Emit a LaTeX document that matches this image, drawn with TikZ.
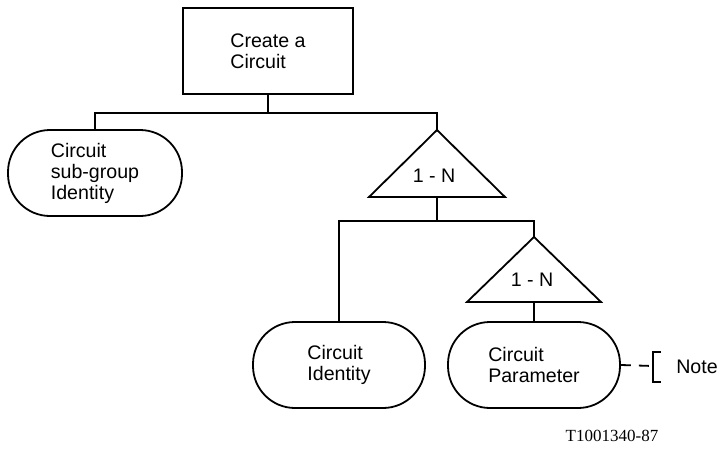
\documentclass[tikz,border=0pt]{standalone}
\usepackage{fontspec}
\setmainfont{Liberation Sans}
\newfontfamily\codefont{Liberation Serif}
\begin{document}
\begin{tikzpicture}[x=0.5pt,y=-0.5pt,line width=0.9pt,
    every node/.style={font=\fontsize{9.8}{10.5}\selectfont,align=left},
    action/.style={draw,minimum width=85pt,minimum height=43pt},
    entity/.style={draw,rounded corners=21pt,minimum width=86pt,minimum height=43pt}]
      \useasboundingbox (0,0) rectangle (723,450);
      \draw
        (268,51) node[action] (create){Create a\\Circuit}
        (95,173) node[entity,minimum width=87pt] (subgroup){Circuit\\sub-group\\Identity}
        (339,365) node[entity] (identity){Circuit\\Identity}
        (534,365) node[entity] (parameter){Circuit\\Parameter}
        (434,176) node (cardA){1 - N}
        (532,280) node (cardB){1 - N}
        (697,367) node (note){Note}
        (612,436) node[font=\codefont\fontsize{8.5}{10}\selectfont] (code){T1001340-87};
      \coordinate (apexA) at (437,130);
      \coordinate (baseA) at (437,197);
      \coordinate (apexB) at (534,237);
      \coordinate (baseB) at (534,302);
      \coordinate (busA) at (268,113);
      \coordinate (busB) at (437,221);
      \coordinate (brace) at (653,366);
      \draw (apexA) -- ++(-68,67) -- ++(136,0) -- cycle;
      \draw (apexB) -- ++(-67,65) -- ++(134,0) -- cycle;
      \draw ([xshift=4pt]brace |- 0,352) -| (brace |- 0,382) -- ++(8,0);
      \begin{scope}[-]
        \draw (create) to (busA);
        \draw (subgroup.north) |- (busA) -| (apexA);
        \draw (baseA) to (busB);
        \draw (identity.north) |- (busB) -| (apexB);
        \draw (baseB) to (parameter.north);
        \draw[dash pattern=on 5pt off 4pt] (parameter.east) to (brace);
      \end{scope}
    \end{tikzpicture}
\end{document}
